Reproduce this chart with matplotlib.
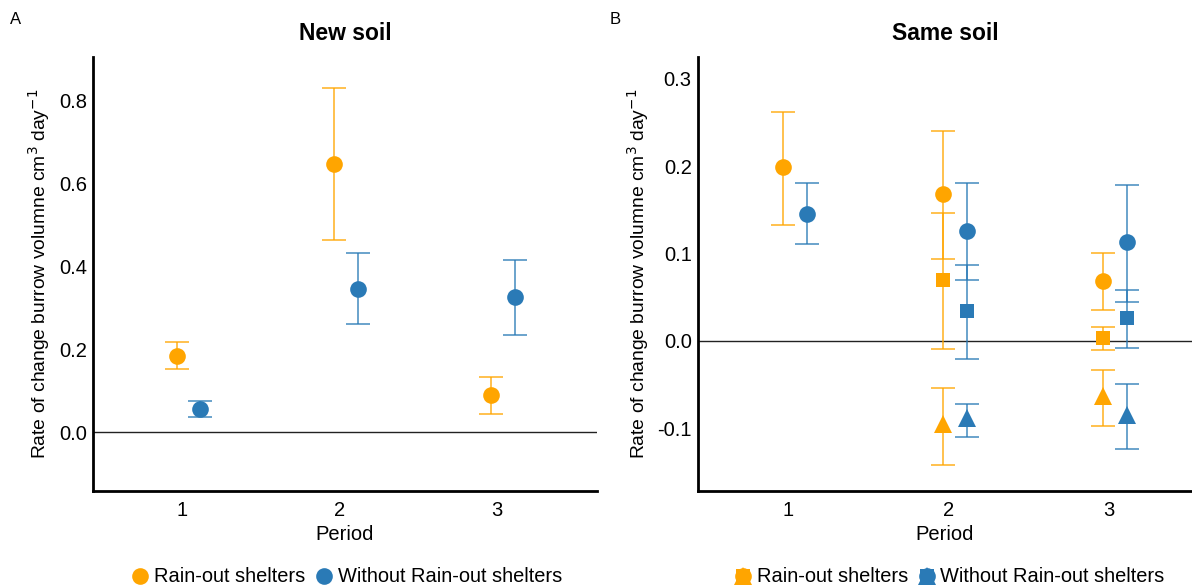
import matplotlib
matplotlib.use("Agg")
import matplotlib.pyplot as plt
from matplotlib.lines import Line2D
from matplotlib.legend_handler import HandlerTuple

plt.rcParams['font.family'] = ['Liberation Sans', 'DejaVu Sans']

# ---------------- data ----------------
periods = [1, 2, 3]
groups = ["Rain-out shelters", "Without Rain-out shelters"]

# Panel A: New soil (circle only)
new_rain = [0.183, 0.647, 0.090]
new_rain_lo = [0.151, 0.463, 0.044]
new_rain_hi = [0.216, 0.830, 0.133]
new_wo = [0.056, 0.346, 0.326]
new_wo_lo = [0.037, 0.260, 0.234]
new_wo_hi = [0.074, 0.431, 0.415]

# Panel B: Same soil, three series per group (circle, square, triangle)
same_circ_periods = [1, 2, 3]
same_circ_rain = [0.199, 0.168, 0.069]
same_circ_rain_lo = [0.1325, 0.094, 0.035]
same_circ_rain_hi = [0.2615, 0.240, 0.100]
same_circ_wo = [0.1455, 0.126, 0.1126]
same_circ_wo_lo = [0.1108, 0.070, 0.045]
same_circ_wo_hi = [0.1806, 0.1806, 0.1784]

same_sq_periods = [2, 3]
same_sq_rain = [0.070, 0.003]
same_sq_rain_lo = [-0.0092, -0.0103]
same_sq_rain_hi = [0.146, 0.0153]
same_sq_wo = [0.034, 0.026]
same_sq_wo_lo = [-0.0206, -0.008]
same_sq_wo_hi = [0.087, 0.058]

same_tri_periods = [2, 3]
same_tri_rain = [-0.095, -0.063]
same_tri_rain_lo = [-0.142, -0.0977]
same_tri_rain_hi = [-0.0535, -0.0336]
same_tri_wo = [-0.0886, -0.0848]
same_tri_wo_lo = [-0.110, -0.1237]
same_tri_wo_hi = [-0.072, -0.049]

ORANGE = "#FFA500"
BLUE = "#2A7AB6"
OFF_RAIN, OFF_WO = -0.035, 0.115

fig = plt.figure(figsize=(11.92, 5.88), dpi=100)
axA = fig.add_axes([93/1192, 1-491/588, (597-93)/1192, (491-57)/588])
axB = fig.add_axes([698/1192, 1-491/588, (1192-698)/1192, (491-57)/588])


def series(ax, xs, off, y, lo, hi, color, marker, ms):
    x = [p + off for p in xs]
    yerr = [[v - l for v, l in zip(y, lo)], [h - v for v, h in zip(y, hi)]]
    ax.errorbar(x, y, yerr=yerr, fmt='none', ecolor=color, alpha=0.75,
                elinewidth=1.3, capsize=8.5, capthick=1.3, zorder=2)
    ax.plot(x, y, linestyle='none', marker=marker, markersize=ms,
            color=color, markeredgewidth=0, zorder=3)


def style(ax, title, ylim, xlim):
    ax.axhline(0, color='#222222', linewidth=1.0, zorder=1)
    ax.set_xlim(*xlim)
    ax.set_ylim(*ylim)
    ax.set_xticks(periods)
    ax.set_xticklabels([str(p) for p in periods])
    for s in ['top', 'right']:
        ax.spines[s].set_visible(False)
    for s in ['left', 'bottom']:
        ax.spines[s].set_linewidth(2.0)
        ax.spines[s].set_color('black')
    ax.tick_params(axis='y', length=0, labelsize=14.5, colors='black', pad=4.5)
    ax.tick_params(axis='x', length=0, labelsize=14.5, colors='black', pad=7)
    ax.set_title(title, fontsize=16.5, fontweight='bold', pad=12)
    ax.set_xlabel("Period", fontsize=14.5, labelpad=4)
    ax.set_ylabel(r"Rate of change burrow volumne cm$^{3}$ day$^{-1}$", fontsize=13.9, labelpad=4.5)


# Panel A
series(axA, periods, OFF_RAIN, new_rain, new_rain_lo, new_rain_hi, ORANGE, 'o', 12)
series(axA, periods, OFF_WO, new_wo, new_wo_lo, new_wo_hi, BLUE, 'o', 12)
style(axA, "New soil", (-0.142, 0.904), (0.433, 3.637))
axA.set_yticks([0.0, 0.2, 0.4, 0.6, 0.8])
axA.set_yticklabels(["0.0", "0.2", "0.4", "0.6", "0.8"])

# Panel B
for (ps, yr, lr, hr, yw, lw, hw, mk, ms) in [
    (same_circ_periods, same_circ_rain, same_circ_rain_lo, same_circ_rain_hi,
     same_circ_wo, same_circ_wo_lo, same_circ_wo_hi, 'o', 12),
    (same_sq_periods, same_sq_rain, same_sq_rain_lo, same_sq_rain_hi,
     same_sq_wo, same_sq_wo_lo, same_sq_wo_hi, 's', 10.5),
    (same_tri_periods, same_tri_rain, same_tri_rain_lo, same_tri_rain_hi,
     same_tri_wo, same_tri_wo_lo, same_tri_wo_hi, '^', 13),
]:
    series(axB, ps, OFF_RAIN, yr, lr, hr, ORANGE, mk, ms)
    series(axB, ps, OFF_WO, yw, lw, hw, BLUE, mk, ms)
style(axB, "Same soil", (-0.172, 0.325), (0.437, 3.52))
axB.set_yticks([-0.1, 0.0, 0.1, 0.2, 0.3])
axB.set_yticklabels(["-0.1", "0.0", "0.1", "0.2", "0.3"])

# Legends
hA = [Line2D([], [], linestyle='none', marker='o', markersize=12, color=c, markeredgewidth=0)
      for c in (ORANGE, BLUE)]
fig.legend(hA, groups, loc='center', bbox_to_anchor=(345/1192, 1-577/588), ncol=2,
           frameon=False, fontsize=14.4, handletextpad=0.1, columnspacing=0.3,
           handlelength=1.2)

hB = []
for c in (ORANGE, BLUE):
    hB.append(tuple(Line2D([], [], linestyle='none', marker=m, markersize=s, color=c,
                           markeredgewidth=0)
                    for m, s in (('o', 12), ('s', 10.5), ('^', 13))))
fig.legend(hB, groups, loc='center', bbox_to_anchor=(948/1192, 1-577/588), ncol=2,
           frameon=False, fontsize=14.4, handletextpad=0.1, columnspacing=0.3,
           handlelength=1.2, handler_map={tuple: HandlerTuple(ndivide=1)})

fig.text(10/1192, 1-20/588, "A", fontsize=12, va='center', ha='left')
fig.text(610/1192, 1-20/588, "B", fontsize=12, va='center', ha='left')

fig.savefig("out.png", dpi=100)
